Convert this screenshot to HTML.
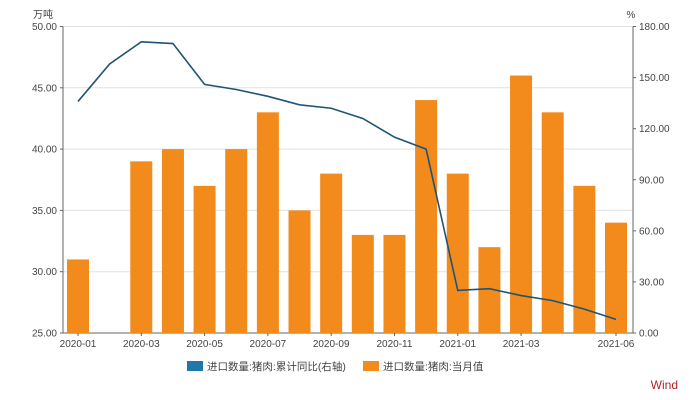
<!DOCTYPE html>
<html><head><meta charset="utf-8"><style>
body{margin:0;background:#fff;}
svg{display:block;font-family:"Liberation Sans","Noto Sans CJK SC",sans-serif;}
</style></head><body>
<svg id="c" width="700" height="400"></svg>
<script>
const months=["2020-01","2020-02","2020-03","2020-04","2020-05","2020-06","2020-07","2020-08","2020-09","2020-10","2020-11","2020-12","2021-01","2021-02","2021-03","2021-04","2021-05","2021-06"];
const monthlyValues=[31,null,39,40,37,40,43,35,38,33,33,44,38,32,46,43,37,34];
const yoyValues=[136,158,171,170,146,143,139,134,132,126,115,108,25,26,22,19,14,8];
const leftTicks=[25,30,35,40,45,50];
const rightTicks=[0,30,60,90,120,150,180];
const xTickLabels=["2020-01","2020-03","2020-05","2020-07","2020-09","2020-11","2021-01","2021-03","2021-06"];

const svg=document.getElementById('c');const NS="http://www.w3.org/2000/svg";
const L=63,R=633,T=26.5,B=333;
function yl(v){return B-(v-25)/25*(B-T);}
function yr(v){return B-v/180*(B-T);}
function xm(i){return 78+i*(616-78)/(months.length-1);}
function mk(tag,attrs,parent){const e=document.createElementNS(NS,tag);for(const k in attrs)e.setAttribute(k,attrs[k]);(parent||svg).appendChild(e);return e;}
function tx(x,y,s,anchor,size,fill){const t=mk('text',{x:x,y:y,'text-anchor':anchor,'font-size':size||10,fill:fill||'#444'});t.textContent=s;return t;}

leftTicks.forEach(v=>{
  const g=mk('line',{x1:L,x2:R,y1:yl(v),y2:yl(v),stroke:'#e2e2e2','stroke-width':1});
  
  
  mk('line',{x1:L-3,x2:L,y1:yl(v),y2:yl(v),stroke:'#666'});
  const t=tx(L-6,yl(v)+3.5,v.toFixed(2),'end');
  
  
});
rightTicks.forEach(v=>{
  mk('line',{x1:R,x2:R+3,y1:yr(v),y2:yr(v),stroke:'#666'});
  const t=tx(R+6,yr(v)+3.5,v.toFixed(2),'start');
  
  
});
const la=mk('line',{x1:L,x2:L,y1:T,y2:B,stroke:'#666'});
const ra=mk('line',{x1:R,x2:R,y1:T,y2:B,stroke:'#666'});
const xa=mk('line',{x1:L,x2:R,y1:B,y2:B,stroke:'#666'});
const u1=tx(43,18,'万吨','middle',10);
const u2=tx(631,18,'%','middle',10);

monthlyValues.forEach((v,i)=>{
  if(v==null)return;
  const b=mk('rect',{x:xm(i)-11,y:yl(v),width:22,height:B-yl(v),fill:'#f28a1c'});
  
  
});
xTickLabels.forEach(s=>{
  const i=months.indexOf(s);
  mk('line',{x1:xm(i),x2:xm(i),y1:B,y2:B+3,stroke:'#666'});
  const t=tx(xm(i),B+14,s,'middle');
  
  
});
const pts=yoyValues.map((v,i)=>xm(i)+','+yr(v)).join(' ');
const pl=mk('polyline',{points:pts,fill:'none',stroke:'#1f5474','stroke-width':1.6});



const lg=mk('g',{});
const s1=mk('rect',{x:187,y:361,width:16,height:10,fill:'#1f78a8'},lg);
const l1=tx(207,370,'进口数量:猪肉:累计同比(右轴)','start',10.5);lg.appendChild(l1);
const s2=mk('rect',{x:363,y:361,width:16,height:10,fill:'#f28a1c'},lg);
const l2=tx(383,370,'进口数量:猪肉:当月值','start',10.5);lg.appendChild(l2);
const w=tx(678,389,'Wind','end',12,'#b0232a');
</script>
</body></html>
